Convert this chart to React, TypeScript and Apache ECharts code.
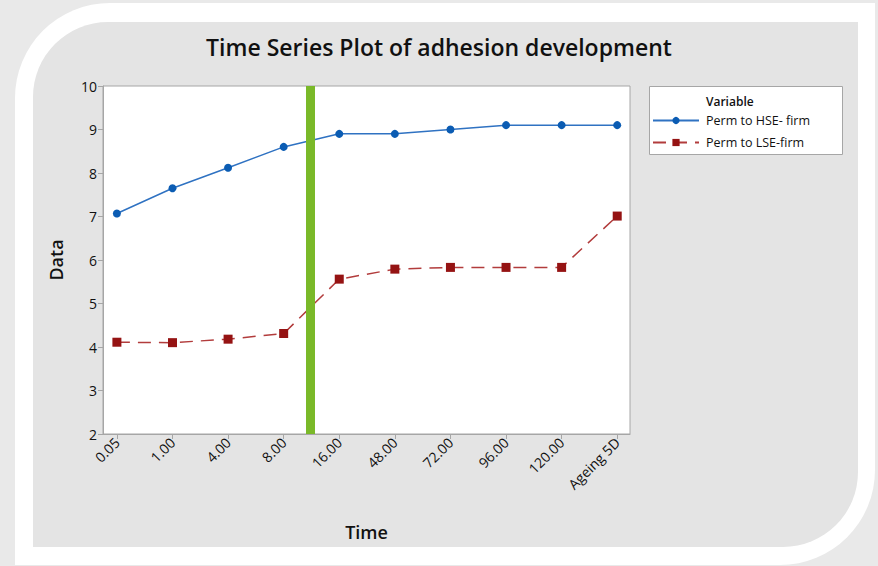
import React, { useEffect, useRef } from "react";
import * as echarts from "echarts";

const categories = ["0.05", "1.00", "4.00", "8.00", "16.00", "48.00", "72.00", "96.00", "120.00", "Ageing 5D"];
const hseValues = [7.07, 7.65, 8.12, 8.6, 8.9, 8.9, 9.0, 9.1, 9.1, 9.1];
const lseValues = [4.11, 4.1, 4.18, 4.31, 5.56, 5.79, 5.83, 5.83, 5.83, 7.01];
const yTicks = [2, 3, 4, 5, 6, 7, 8, 9, 10];
const markerX = 3.48;

const FONT = "'Open Sans', 'Noto Sans', sans-serif";

export default function App() {
  const ref = useRef<HTMLDivElement>(null);
  useEffect(() => {
    if (!ref.current) return;
    const chart = echarts.init(ref.current, null, { renderer: "svg" });
    const idx = categories.map((_, i) => i);
    chart.setOption({
      animation: false,
      backgroundColor: "#e9e9e9",
      textStyle: { fontFamily: FONT },
      title: {
        text: "Time Series Plot of adhesion development",
        left: "center",
        top: 30,
        textStyle: { fontSize: 23, fontWeight: 600, color: "#111111", fontFamily: FONT },
      },
      graphic: [
        {
          type: "rect",
          z: -10,
          shape: { x: 15, y: 3, width: 860, height: 562, r: [95, 0, 95, 0] },
          style: { fill: "#ffffff" },
          silent: true,
        },
        {
          type: "rect",
          z: -9,
          shape: { x: 33, y: 22, width: 825, height: 525, r: [75, 0, 75, 0] },
          style: { fill: "#e4e4e4" },
          silent: true,
        },
        {
          type: "rect",
          z: 1,
          shape: { x: 649.5, y: 86.5, width: 193, height: 68 },
          style: { fill: "#ffffff", stroke: "#a6a6a6", lineWidth: 1 },
          silent: true,
        },
        {
          type: "text",
          z: 2,
          x: 706,
          y: 101,
          style: { text: "Variable", fill: "#111111", font: `600 12px ${FONT}`, verticalAlign: "middle" },
          silent: true,
        },
      ],
      legend: {
        orient: "vertical",
        left: 652,
        top: 114,
        itemWidth: 46,
        itemHeight: 9,
        itemGap: 9,
        padding: 0,
        textStyle: { fontSize: 12.5, color: "#111111", fontFamily: FONT, padding: [0, 0, 0, 2] },
        data: ["Perm to HSE- firm", "Perm to LSE-firm"],
      },
      grid: {
        left: 103,
        top: 86,
        width: 527,
        height: 348,
        show: true,
        backgroundColor: "#ffffff",
        borderColor: "#a6a6a6",
        borderWidth: 1,
      },
      xAxis: {
        type: "value",
        min: -0.25,
        max: 9.23,
        name: "Time",
        nameLocation: "middle",
        nameGap: 89,
        nameTextStyle: { fontSize: 18, fontWeight: 600, color: "#111111", fontFamily: FONT },
        splitLine: { show: false },
        axisLine: { show: true, onZero: false, lineStyle: { color: "#a6a6a6" } },
        axisTick: { show: true, length: 5, lineStyle: { color: "#a6a6a6" }, customValues: idx },
        axisLabel: {
          customValues: idx,
          rotate: 45,
          fontSize: 14,
          color: "#111111",
          fontFamily: FONT,
          margin: 6,
          formatter: (v: number) => categories[Math.round(v)] ?? "",
        },
      },
      yAxis: {
        type: "value",
        min: 2,
        max: 10,
        interval: 1,
        name: "Data",
        nameLocation: "middle",
        nameGap: 38,
        nameTextStyle: { fontSize: 18, fontWeight: 600, color: "#111111", fontFamily: FONT },
        splitLine: { show: false },
        axisLine: { show: true, onZero: false, lineStyle: { color: "#a6a6a6" } },
        axisTick: { show: true, length: 5, lineStyle: { color: "#a6a6a6" } },
        axisLabel: {
          fontSize: 14,
          color: "#111111",
          fontFamily: FONT,
          margin: 6,
          formatter: (v: number) => (yTicks.includes(v) ? String(v) : ""),
        },
      },
      series: [
        {
          name: "Perm to HSE- firm",
          type: "line",
          data: hseValues.map((v, i) => [i, v]),
          symbol: "circle",
          symbolSize: 8,
          itemStyle: { color: "#0b5cb3" },
          lineStyle: { color: "#2f72c2", width: 1.5 },
          markLine: {
            silent: true,
            symbol: "none",
            label: { show: false },
            lineStyle: { color: "#7ab929", width: 9, type: "solid" },
            data: [{ xAxis: markerX }],
          },
        },
        {
          name: "Perm to LSE-firm",
          type: "line",
          data: lseValues.map((v, i) => [i, v]),
          symbol: "rect",
          symbolSize: 9,
          itemStyle: { color: "#951313" },
          lineStyle: { color: "#b23c3c", width: 1.5, type: [13, 8] },
        },
      ],
    });
    return () => chart.dispose();
  }, []);
  return (
    <div
      ref={ref}
      style={{ position: "absolute", left: 0, top: 0, width: 878, height: 566 }}
    />
  );
}
